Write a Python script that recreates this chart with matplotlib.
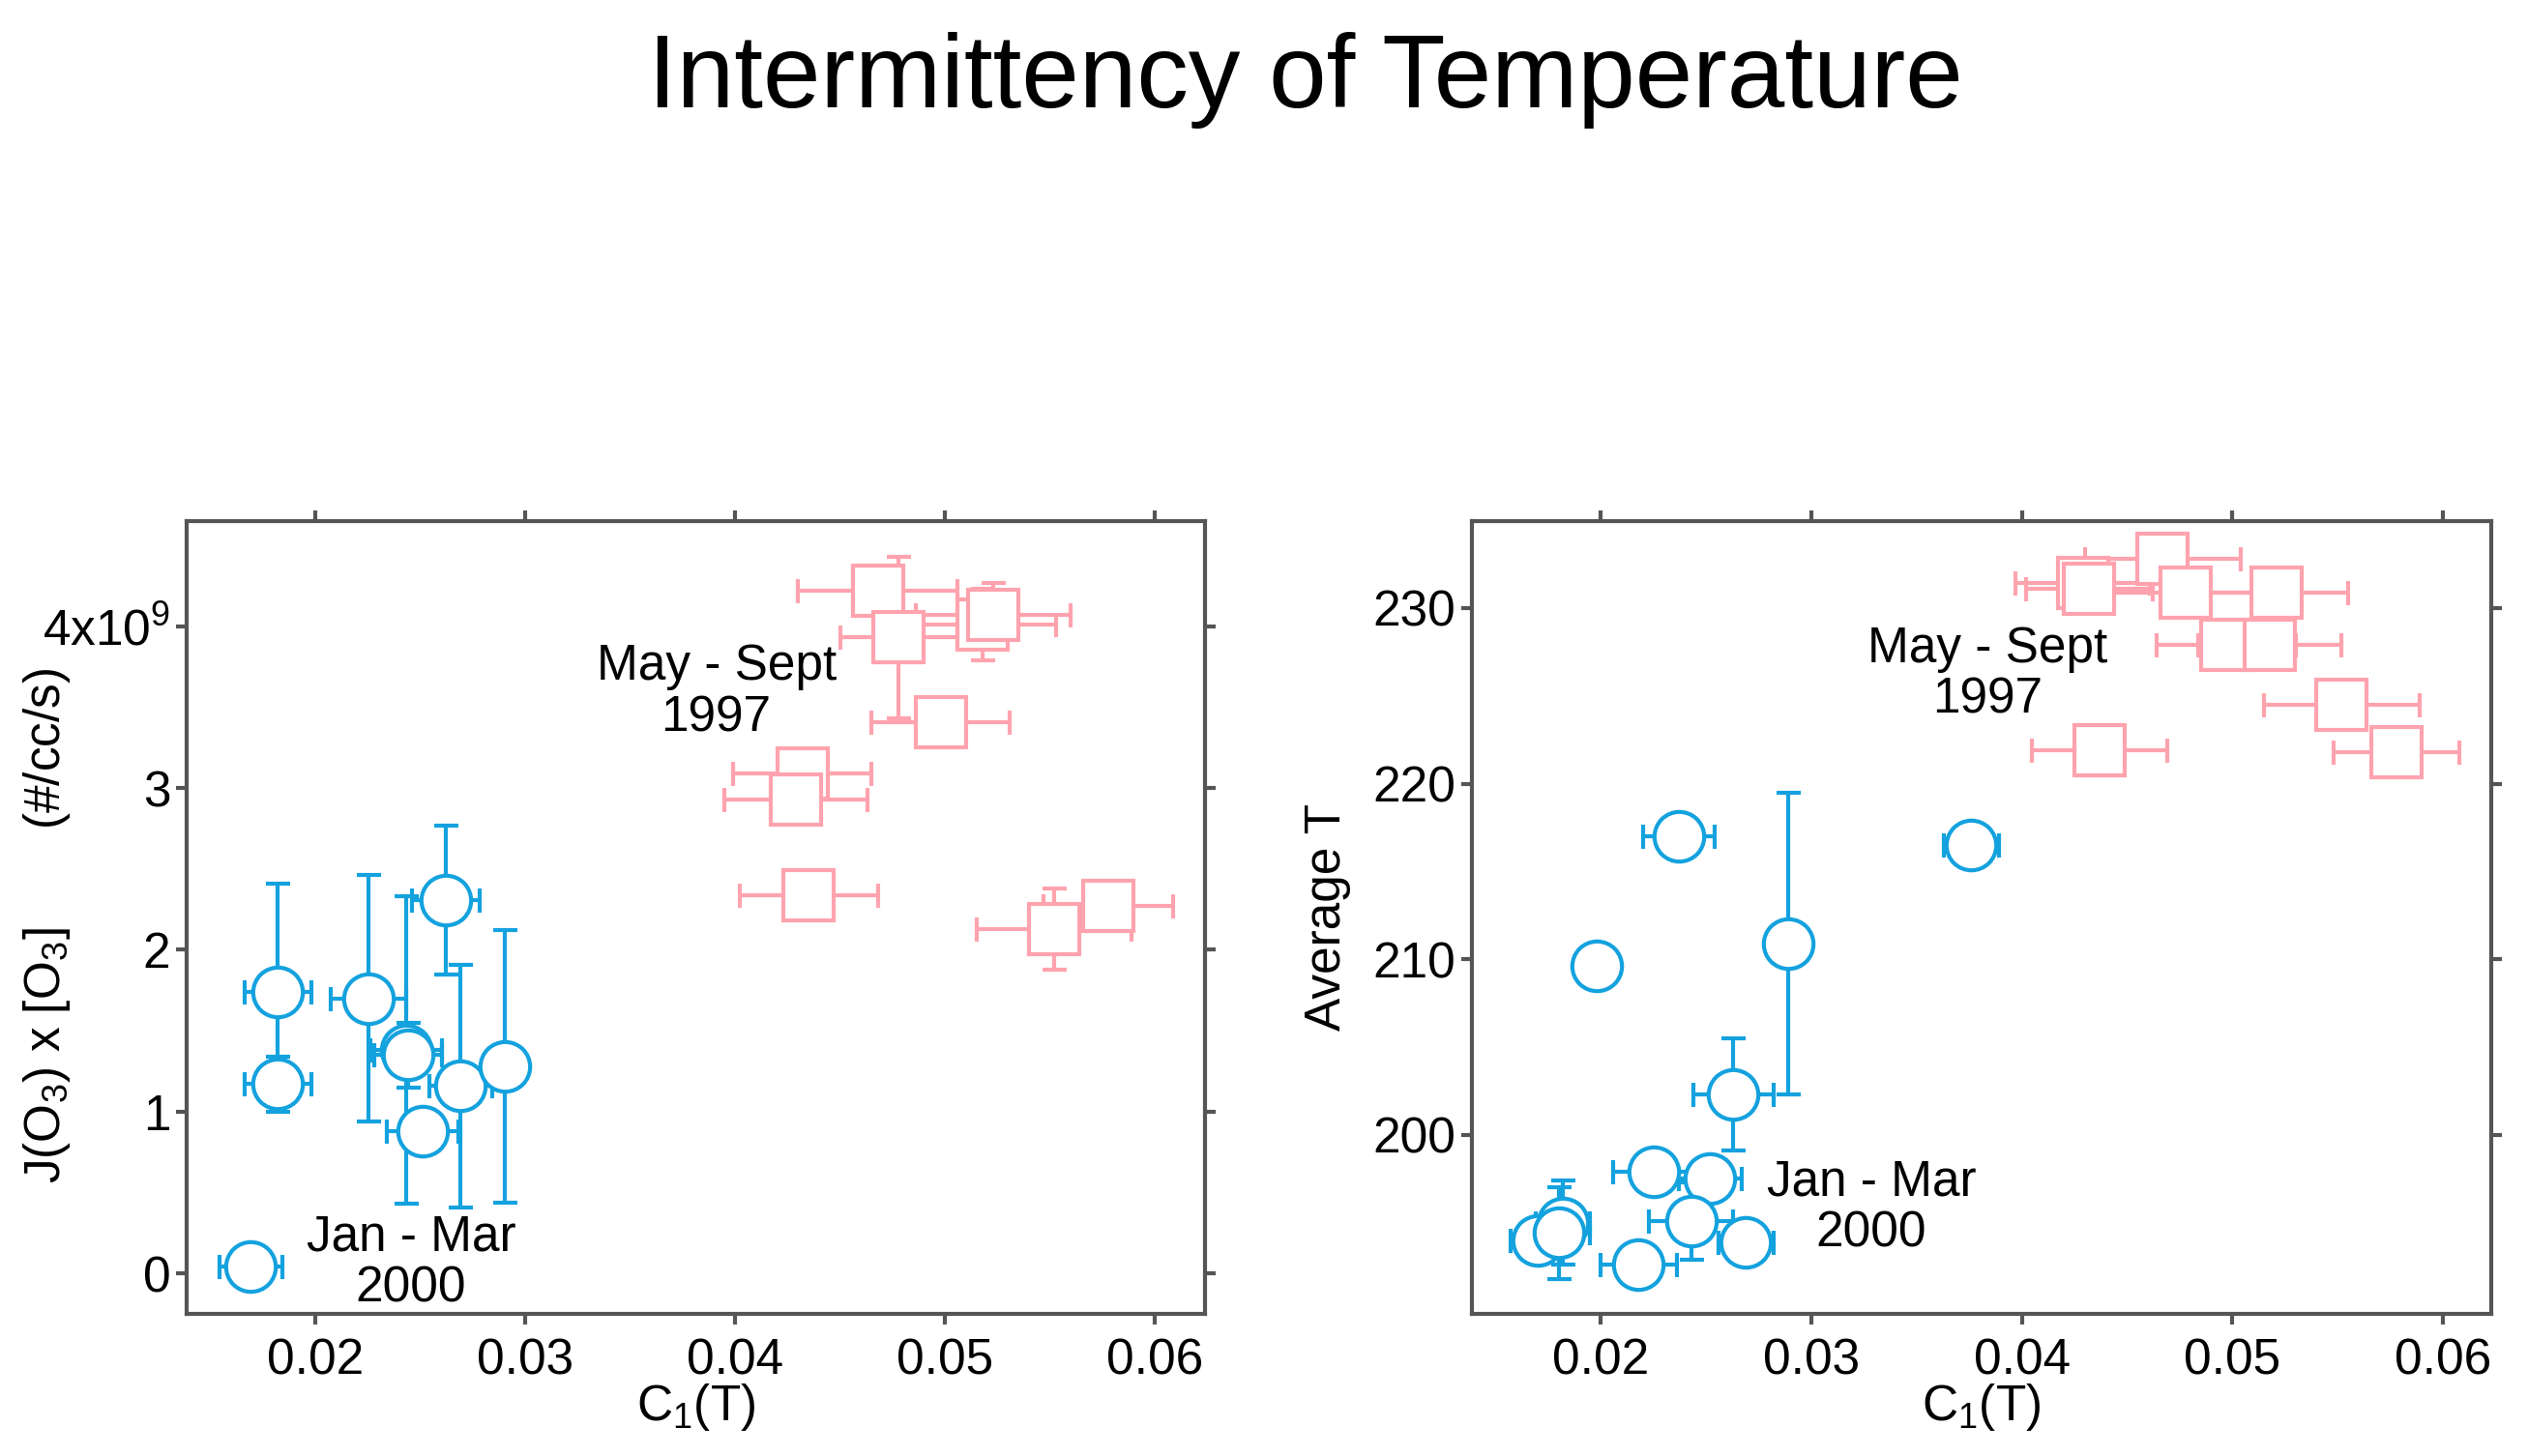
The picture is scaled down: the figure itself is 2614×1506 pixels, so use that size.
import matplotlib
matplotlib.use("Agg")
import matplotlib.pyplot as plt

plt.rcParams['font.family'] = ['Liberation Sans', 'DejaVu Sans']
plt.rcParams['mathtext.fontset'] = 'custom'
plt.rcParams['mathtext.rm'] = 'Liberation Sans'
plt.rcParams['mathtext.it'] = 'Liberation Sans'

# ---------------- data ----------------
# Left panel: J(O3) x [O3] (units of 1e9 #/cc/s) vs C1(T)
jan_c1_left = [0.0169, 0.0182, 0.0182, 0.0225, 0.0243, 0.0244, 0.0262, 0.0251, 0.0269, 0.0290]
jan_j_left = [0.04, 1.74, 1.17, 1.70, 1.38, 1.35, 2.31, 0.88, 1.16, 1.28]
jan_j_left_err = [0.0, 0.67, 0.17, 0.76, 0.95, 0.20, 0.46, 0.12, 0.75, 0.84]
jan_c1_left_err = [0.0015, 0.0016, 0.0016, 0.0018, 0.0017, 0.0016, 0.0016, 0.0017, 0.0015, 0.0008]

may_c1_left = [0.0468, 0.0518, 0.0523, 0.0478, 0.0498, 0.0432, 0.0429, 0.0435, 0.0552, 0.0578]
may_j_left = [4.22, 4.01, 4.07, 3.93, 3.41, 3.09, 2.93, 2.34, 2.13, 2.27]
may_j_left_err = [0.0, 0.22, 0.20, 0.50, 0.10, 0.08, 0.08, 0.05, 0.25, 0.08]
may_c1_left_err = [0.0038, 0.0035, 0.0037, 0.0028, 0.0033, 0.0033, 0.0034, 0.0033, 0.0037, 0.0031]

# Right panel: Average T vs C1(T)
jan_c1_right = [0.0170, 0.0182, 0.0180, 0.0198, 0.0237, 0.0289, 0.0376, 0.0263, 0.0225, 0.0252, 0.0243, 0.0269, 0.0218]
jan_t_right = [194.0, 195.0, 194.4, 209.6, 217.0, 210.9, 216.5, 202.3, 197.9, 197.5, 195.1, 193.85, 192.6]
jan_t_right_err = [0.0, 2.4, 2.6, 0.0, 0.0, 8.6, 0.0, 3.2, 0.3, 0.0, 2.2, 0.0, 0.0]
jan_c1_right_err = [0.0013, 0.0013, 0.0015, 0.0010, 0.0017, 0.0, 0.0013, 0.0019, 0.0019, 0.0015, 0.0020, 0.0013, 0.0018]

may_c1_right = [0.0429, 0.0432, 0.0467, 0.0478, 0.0521, 0.0497, 0.0518, 0.0552, 0.0578, 0.0437]
may_t_right = [231.45, 231.1, 232.8, 230.9, 230.9, 227.9, 227.9, 224.5, 221.8, 221.9]
may_t_right_err = [0.3, 0.0, 0.3, 0.0, 0.0, 0.0, 0.0, 0.0, 0.0, 0.0]
may_c1_right_err = [0.0032, 0.0030, 0.0037, 0.0035, 0.0034, 0.0033, 0.0034, 0.0037, 0.0030, 0.0032]

x_ticks = [0.02, 0.03, 0.04, 0.05, 0.06]
x_tick_labels = ["0.02", "0.03", "0.04", "0.05", "0.06"]
left_y_ticks = [0, 1, 2, 3, 4]
left_y_tick_labels = ["0", "1", "2", "3", "4x10$^{9}$"]
right_y_ticks = [200, 210, 220, 230]
right_y_tick_labels = ["200", "210", "220", "230"]

title = "Intermittency of Temperature"
xlabel = "C$_1$(T)"
left_ylabel = "J(O$_3$) x [O$_3$]       (#/cc/s)"
right_ylabel = "Average T"
may_label = "May - Sept\n1997"
jan_label = "Jan - Mar\n2000"

# ---------------- style ----------------
BLUE = '#14A2DE'
PINK = '#FFA3AE'
SPINE = '#555555'
FS = 37

fig = plt.figure(figsize=(26.14, 15.06), dpi=100)
ax1 = fig.add_axes([193 / 2614, 147 / 1506, (1246 - 193) / 2614, (1359 - 539) / 1506])
ax2 = fig.add_axes([1522 / 2614, 147 / 1506, (2576 - 1522) / 2614, (1359 - 539) / 1506])


def series(ax, x, y, xe, ye, color, marker, ms):
    ax.errorbar(x, y, xerr=xe, yerr=ye, fmt=marker, ms=ms, mfc='white', mec=color,
                mew=3, ecolor=color, elinewidth=3, capsize=9, capthick=3, linestyle='none')


def style(ax):
    for s in ax.spines.values():
        s.set_color(SPINE)
        s.set_linewidth(3)
    ax.tick_params(axis='both', which='both', direction='out', length=8, width=3,
                   color=SPINE, labelsize=FS, top=True, right=True,
                   labeltop=False, labelright=False)
    ax.tick_params(axis='x', pad=10)
    ax.tick_params(axis='y', pad=4)
    ax.set_xticks(x_ticks)
    ax.set_xticklabels(x_tick_labels)
    ax.set_xlabel(xlabel, fontsize=FS)
    ax.xaxis.set_label_coords(0.5, -0.085)


# left
series(ax1, may_c1_left, may_j_left, may_c1_left_err, may_j_left_err, PINK, 's', 38)
series(ax1, jan_c1_left, jan_j_left, jan_c1_left_err, jan_j_left_err, BLUE, 'o', 37)
ax1.set_xlim(0.01385, 0.0624)
ax1.set_ylim(-0.25, 4.65)
style(ax1)
ax1.set_yticks(left_y_ticks)
ax1.set_yticklabels(left_y_tick_labels)
ax1.set_ylabel(left_ylabel, fontsize=FS)
ax1.yaxis.set_label_coords(-0.112, 0.49)
ax1.text(0.0391, 3.59, may_label, fontsize=FS, ha='center', va='center', linespacing=1.1)
ax1.text(0.02455, 0.065, jan_label, fontsize=FS, ha='center', va='center', linespacing=1.1)

# right
series(ax2, may_c1_right, may_t_right, may_c1_right_err, may_t_right_err, PINK, 's', 38)
series(ax2, jan_c1_right, jan_t_right, jan_c1_right_err, jan_t_right_err, BLUE, 'o', 37)
ax2.set_xlim(0.01388, 0.0623)
ax2.set_ylim(189.8, 234.95)
style(ax2)
ax2.set_yticks(right_y_ticks)
ax2.set_yticklabels(right_y_tick_labels)
ax2.set_ylabel(right_ylabel, fontsize=FS)
ax2.yaxis.set_label_coords(-0.119, 0.5)
ax2.text(0.03836, 226.2, may_label, fontsize=FS, ha='center', va='center', linespacing=1.1)
ax2.text(0.03285, 195.85, jan_label, fontsize=FS, ha='center', va='center', linespacing=1.1)

fig.text(0.5165, 0.945, title, fontsize=77, ha='center', va='center')

fig.savefig('out.png', dpi=100)
